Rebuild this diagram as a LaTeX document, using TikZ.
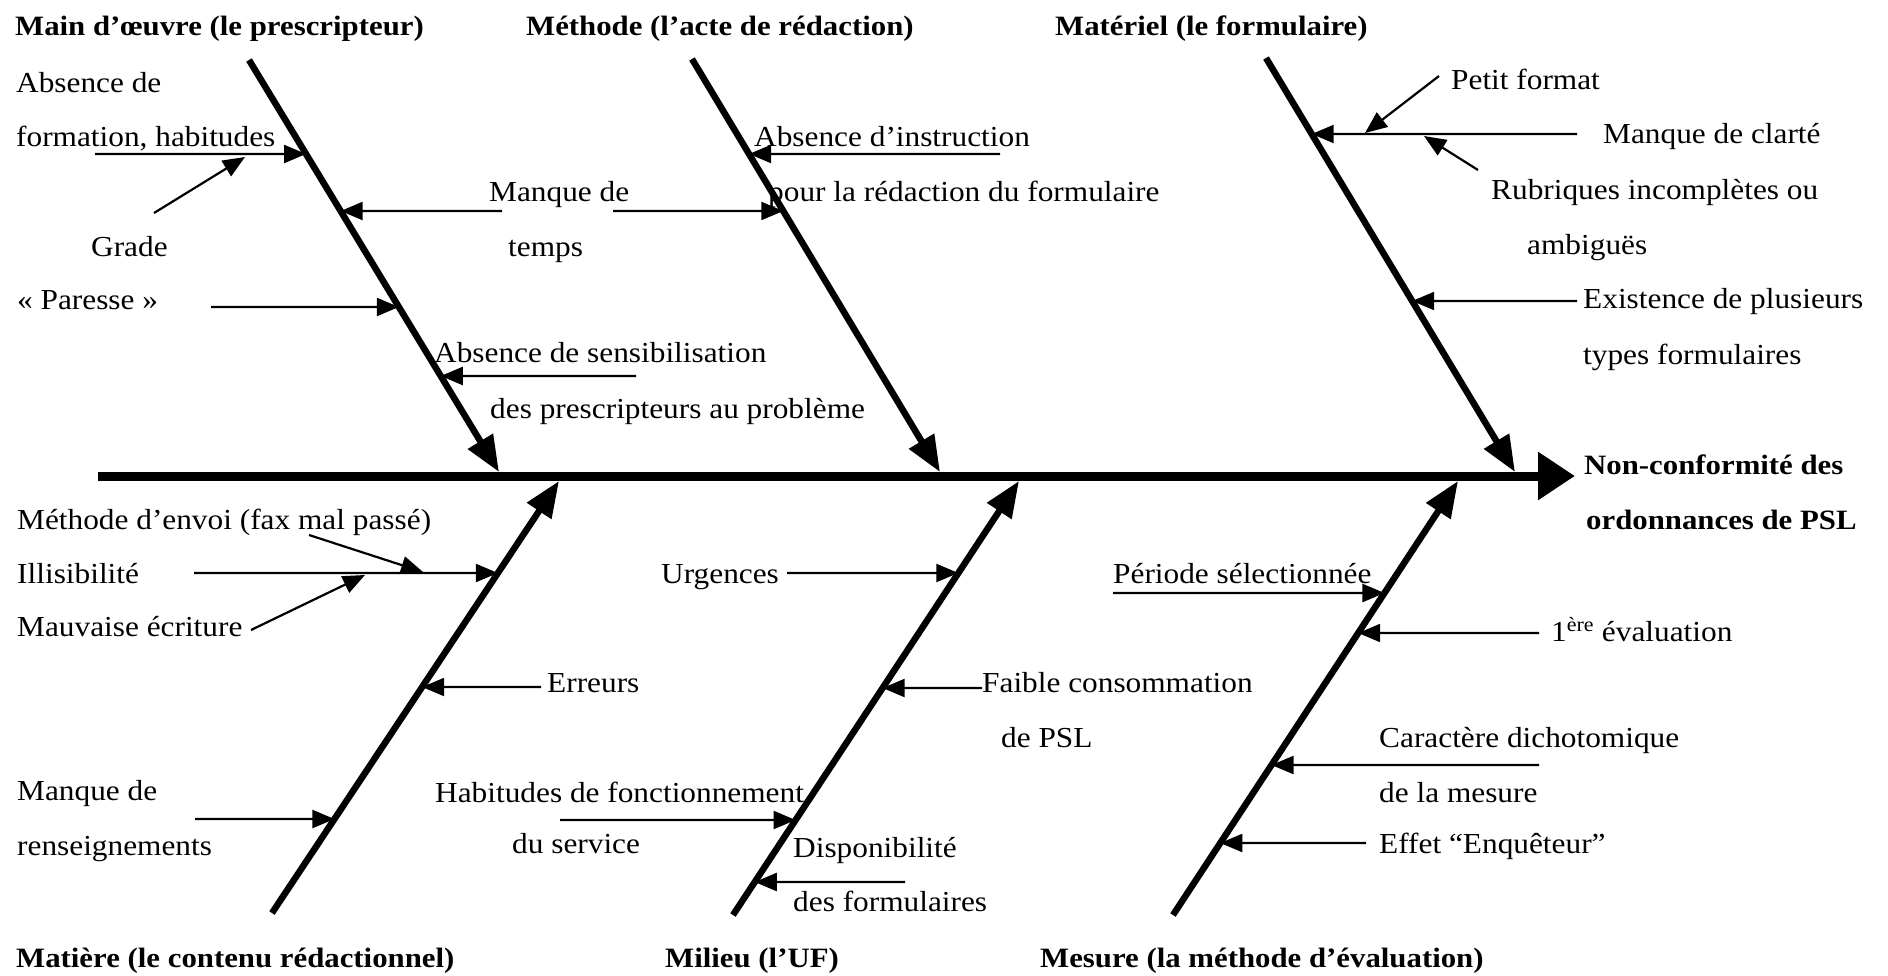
\documentclass[tikz,border=0pt]{standalone}
\usepackage{fontspec}
\setmainfont{Liberation Serif}[FakeStretch=1.08]
\newfontfamily\hdfont{Liberation Serif}[FakeStretch=1.1]
\usetikzlibrary{arrows.meta,calc}
\begin{document}
\begin{tikzpicture}[x=1pt,y=-1pt,
  lbl/.style={anchor=base west,inner sep=0pt,font=\fontsize{29}{34}\selectfont},
  hd/.style={anchor=base west,inner sep=0pt,font=\hdfont\bfseries\fontsize{28}{32}\selectfont},
  bone/.style={line width=6.5pt,-{Triangle[length=36pt,width=28pt]}},
  spine/.style={line width=9pt,-{Triangle[length=37pt,width=46pt]}},
  sarr/.style={line width=2.2pt,-{Triangle[length=22pt,width=18pt]}}]
\fill[white] (0,0) rectangle (1888,975);
\useasboundingbox (0,0) rectangle (1888,975);

% ---------- spine and bones ----------
\coordinate (S0) at (98,476);
\coordinate (S1) at (1575,476);
\coordinate (B1a) at (249,60);   \coordinate (B1b) at (499,472);
\coordinate (B2a) at (692,59);   \coordinate (B2b) at (940,472);
\coordinate (B3a) at (1266,58);  \coordinate (B3b) at (1515,472);
\coordinate (B4a) at (272,913);  \coordinate (B4b) at (559,481);
\coordinate (B5a) at (733,915);  \coordinate (B5b) at (1019,481);
\coordinate (B6a) at (1173,915); \coordinate (B6b) at (1458,481);
\draw[spine] (S0) -- (S1);
\draw[bone] (B1a) -- (B1b);
\draw[bone] (B2a) -- (B2b);
\draw[bone] (B3a) -- (B3b);
\draw[bone] (B4a) -- (B4b);
\draw[bone] (B5a) -- (B5b);
\draw[bone] (B6a) -- (B6b);

% ---------- headings ----------
\node[hd] (hMO) at (15,35) {Main d’œuvre (le prescripteur)};
\node[hd] (hMe) at (526,35) {Méthode (l’acte de rédaction)};
\node[hd] (hMa) at (1055,35) {Matériel (le formulaire)};
\node[hd] (hMt) at (16,967) {Matière (le contenu rédactionnel)};
\node[hd] (hMi) at (665,967) {Milieu (l’UF)};
\node[hd] (hMs) at (1040,967) {Mesure (la méthode d’évaluation)};
\node[hd] (eff1) at (1584,474) {Non-conformité des};
\node[hd] (eff2) at (1586,529) {ordonnances de PSL};

% ---------- upper labels ----------
\node[lbl] (l1) at (16,92) {Absence de};
\node[lbl] (l2) at (16,146) {formation, habitudes};
\node[lbl] (l3) at (91,256) {Grade};
\node[lbl] (l4) at (17,309) {« Paresse »};
\node[lbl] (l5) at (489,201) {Manque de};
\node[lbl] (l6) at (508,256) {temps};
\node[lbl] (l7) at (434,362) {Absence de sensibilisation};
\node[lbl] (l8) at (490,418) {des prescripteurs au problème};
\node[lbl] (l9) at (754,146) {Absence d’instruction};
\node[lbl] (l10) at (768,201) {pour la rédaction du formulaire};
\node[lbl] (l11) at (1451,89) {Petit format};
\node[lbl] (l12) at (1603,143) {Manque de clarté};
\node[lbl] (l13) at (1491,199) {Rubriques incomplètes ou};
\node[lbl] (l14) at (1527,254) {ambiguës};
\node[lbl] (l15) at (1583,308) {Existence de plusieurs};
\node[lbl] (l16) at (1583,364) {types formulaires};

% ---------- lower labels ----------
\node[lbl] (m1) at (17,529) {Méthode d’envoi (fax mal passé)};
\node[lbl] (m2) at (17,583) {Illisibilité};
\node[lbl] (m3) at (17,636) {Mauvaise écriture};
\node[lbl] (m4) at (547,692) {Erreurs};
\node[lbl] (m5) at (17,800) {Manque de};
\node[lbl] (m6) at (17,855) {renseignements};
\node[lbl] (m7) at (435,802) {Habitudes de fonctionnement};
\node[lbl] (m8) at (512,853) {du service};
\node[lbl] (m9) at (661,583) {Urgences};
\node[lbl] (m10) at (982,692) {Faible consommation};
\node[lbl] (m11) at (1001,747) {de PSL};
\node[lbl] (m12) at (793,857) {Disponibilité};
\node[lbl] (m13) at (793,911) {des formulaires};
\node[lbl] (m14) at (1113,583) {Période sélectionnée};
\node[lbl] (m15) at (1551,641) {1\textsuperscript{ère} évaluation};
\node[lbl] (m16) at (1379,747) {Caractère dichotomique};
\node[lbl] (m17) at (1379,802) {de la mesure};
\node[lbl] (m18) at (1379,853) {Effet “Enquêteur”};

% ---------- cause arrows: Main d'oeuvre ----------
\coordinate (t1) at (95,154);   \coordinate (p1) at ($(B1a)!{(154-60)/412}!(B1b)$);
\coordinate (t2) at (154,213);  \coordinate (p2) at (245,157);
\coordinate (t3) at (211,307);  \coordinate (p3) at ($(B1a)!{(307-60)/412}!(B1b)$);
\coordinate (t4) at (502,211);  \coordinate (p4) at ($(B1a)!{(211-60)/412}!(B1b)$);
\coordinate (t6) at (636,376);  \coordinate (p6) at ($(B1a)!{(376-60)/412}!(B1b)$);
\draw[sarr] (t1) -- (p1);
\draw[sarr] (t2) -- (p2);
\draw[sarr] (t3) -- (p3);
\draw[sarr] (t4) -- (p4);
\draw[sarr] (t6) -- (p6);
% ---------- Methode ----------
\coordinate (t5) at (613,211);  \coordinate (p5) at ($(B2a)!{(211-59)/413}!(B2b)$);
\coordinate (t7) at (1000,154); \coordinate (p7) at ($(B2a)!{(154-59)/413}!(B2b)$);
\draw[sarr] (t5) -- (p5);
\draw[sarr] (t7) -- (p7);
% ---------- Materiel ----------
\coordinate (t8) at (1439,76);  \coordinate (p8) at (1365,133);
\coordinate (t9) at (1577,134); \coordinate (p9) at ($(B3a)!{(134-58)/414}!(B3b)$);
\coordinate (t10) at (1478,170); \coordinate (p10) at (1424,136);
\coordinate (t11) at (1577,301); \coordinate (p11) at ($(B3a)!{(301-58)/414}!(B3b)$);
\draw[sarr] (t8) -- (p8);
\draw[sarr] (t9) -- (p9);
\draw[sarr] (t10) -- (p10);
\draw[sarr] (t11) -- (p11);
% ---------- Matiere ----------
\coordinate (u1) at (309,535);  \coordinate (q1) at (423,572);
\coordinate (u2) at (194,573);  \coordinate (q2) at ($(B4a)!{(913-573)/432}!(B4b)$);
\coordinate (u3) at (251,630);  \coordinate (q3) at (365,575);
\coordinate (u4) at (541,687);  \coordinate (q4) at ($(B4a)!{(913-687)/432}!(B4b)$);
\coordinate (u5) at (195,819);  \coordinate (q5) at ($(B4a)!{(913-819)/432}!(B4b)$);
\draw[sarr] (u1) -- (q1);
\draw[sarr] (u2) -- (q2);
\draw[sarr] (u3) -- (q3);
\draw[sarr] (u4) -- (q4);
\draw[sarr] (u5) -- (q5);
% ---------- Milieu ----------
\coordinate (u6) at (560,820);  \coordinate (q6) at ($(B5a)!{(915-820)/434}!(B5b)$);
\coordinate (u7) at (787,573);  \coordinate (q7) at ($(B5a)!{(915-573)/434}!(B5b)$);
\coordinate (u8) at (982,688);  \coordinate (q8) at ($(B5a)!{(915-688)/434}!(B5b)$);
\coordinate (u9) at (905,882);  \coordinate (q9) at ($(B5a)!{(915-882)/434}!(B5b)$);
\draw[sarr] (u6) -- (q6);
\draw[sarr] (u7) -- (q7);
\draw[sarr] (u8) -- (q8);
\draw[sarr] (u9) -- (q9);
% ---------- Mesure ----------
\coordinate (u10) at (1113,593); \coordinate (q10) at ($(B6a)!{(915-593)/434}!(B6b)$);
\coordinate (u11) at (1539,633); \coordinate (q11) at ($(B6a)!{(915-633)/434}!(B6b)$);
\coordinate (u12) at (1539,765); \coordinate (q12) at ($(B6a)!{(915-765)/434}!(B6b)$);
\coordinate (u13) at (1366,843); \coordinate (q13) at ($(B6a)!{(915-843)/434}!(B6b)$);
\draw[sarr] (u10) -- (q10);
\draw[sarr] (u11) -- (q11);
\draw[sarr] (u12) -- (q12);
\draw[sarr] (u13) -- (q13);
\end{tikzpicture}
\end{document}
